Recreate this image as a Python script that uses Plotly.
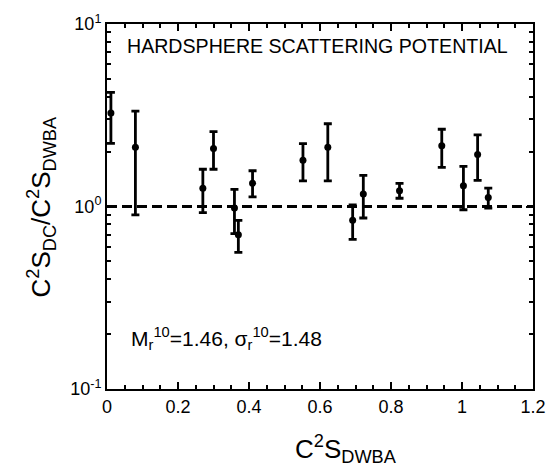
import plotly.graph_objects as go

# Spectroscopic-factor ratio vs DWBA value (hard-sphere scattering potential)
c2s_dwba = [0.011, 0.080, 0.270, 0.300, 0.359, 0.370, 0.410, 0.552,
            0.622, 0.692, 0.722, 0.824, 0.943, 1.004, 1.044, 1.074]
ratio = [3.25, 2.11, 1.26, 2.08, 0.98, 0.70, 1.34, 1.79,
         2.11, 0.84, 1.17, 1.22, 2.15, 1.30, 1.93, 1.12]
ratio_hi = [4.22, 3.33, 1.60, 2.57, 1.24, 0.84, 1.57, 2.21,
            2.84, 1.02, 1.48, 1.34, 2.65, 1.66, 2.47, 1.26]
ratio_lo = [2.22, 0.90, 0.925, 1.60, 0.71, 0.56, 1.13, 1.38,
            1.38, 0.66, 0.865, 1.11, 1.64, 0.96, 1.39, 0.98]

x_ticks = [0, 0.2, 0.4, 0.6, 0.8, 1.0, 1.2]
x_tick_text = ["0", "0.2", "0.4", "0.6", "0.8", "1", "1.2"]
y_ticks = [0.1, 1, 10]
y_tick_text = ["10<sup>-1</sup>", "10<sup>0</sup>", "10<sup>1</sup>"]
y_minor = [m * d for d in (0.1, 1) for m in range(2, 10)]

err_plus = [h - v for h, v in zip(ratio_hi, ratio)]
err_minus = [v - l for v, l in zip(ratio, ratio_lo)]

FONT = "Liberation Sans, Arial, Helvetica, sans-serif"

fig = go.Figure()
fig.add_trace(go.Scatter(
    x=c2s_dwba, y=ratio, mode="markers",
    marker=dict(color="black", size=7),
    error_y=dict(type="data", symmetric=False, array=err_plus,
                 arrayminus=err_minus, color="black", thickness=2.8, width=4),
    showlegend=False,
))

# unity reference line
fig.add_shape(type="line", xref="paper", x0=0, x1=1, yref="y", y0=1, y1=1,
              line=dict(color="black", width=3, dash="10px,5px"), layer="below")

fig.add_annotation(text="HARDSPHERE SCATTERING POTENTIAL", xref="paper", yref="paper",
                   x=0.495, y=0.939, showarrow=False, xanchor="center", yanchor="middle",
                   font=dict(family=FONT, size=19.6, color="black"))
fig.add_annotation(text="M<sub>r</sub><sup>10</sup>=1.46, σ<sub>r</sub><sup>10</sup>=1.48",
                   xref="paper", yref="paper", x=0.052, y=0.138, showarrow=False,
                   xanchor="left", yanchor="middle",
                   font=dict(family=FONT, size=21, color="black"))

# axis titles
fig.add_annotation(text="C<sup>2</sup>S<sub>DWBA</sub>", xref="paper", yref="paper",
                   x=0.561, y=-0.165, showarrow=False, xanchor="center", yanchor="middle",
                   font=dict(family=FONT, size=26, color="black"))
fig.add_annotation(text="C<sup>2</sup>S<sub>DC</sub>/C<sup>2</sup>S<sub>DWBA</sub>",
                   xref="paper", yref="paper", x=-0.155, y=0.5, showarrow=False,
                   xanchor="center", yanchor="middle", textangle=-90,
                   font=dict(family=FONT, size=26, color="black"))

fig.update_layout(
    width=558, height=472,
    margin=dict(l=107, r=18, t=19, b=83),
    paper_bgcolor="white", plot_bgcolor="white",
    font=dict(family=FONT, color="black", size=18),
    xaxis=dict(
        range=[0, 1.2], tickvals=x_ticks, ticktext=x_tick_text,
        ticks="inside", ticklen=7, tickwidth=2, tickcolor="black",
        showline=True, linewidth=2, linecolor="black", mirror="ticks",
        showgrid=False, zeroline=False, tickfont=dict(size=18),
        minor=dict(dtick=0.05, tick0=0, ticks="inside", ticklen=4,
                   tickwidth=2, tickcolor="black", showgrid=False),
    ),
    yaxis=dict(
        type="log", range=[-1, 1], tickvals=y_ticks, ticktext=y_tick_text,
        ticks="inside", ticklen=7, tickwidth=2, tickcolor="black",
        showline=True, linewidth=2, linecolor="black", mirror="ticks",
        showgrid=False, zeroline=False, tickfont=dict(size=18),
        minor=dict(tickvals=y_minor, ticks="inside", ticklen=4,
                   tickwidth=2, tickcolor="black", showgrid=False),
    ),
)

fig.write_html("out.html")
